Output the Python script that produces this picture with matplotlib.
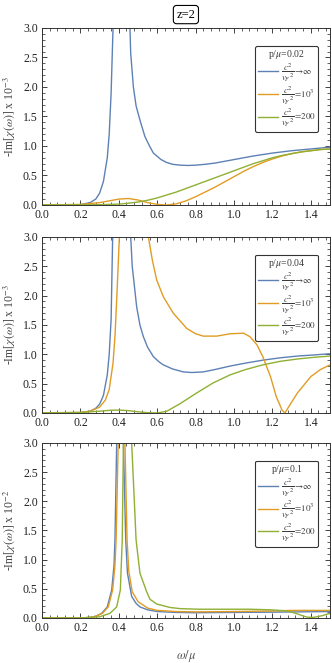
import matplotlib
matplotlib.use("Agg")
import matplotlib.pyplot as plt
from matplotlib.ticker import MultipleLocator, FuncFormatter

plt.rcParams["font.family"] = ["Liberation Serif", "DejaVu Serif"]
plt.rcParams["mathtext.fontset"] = "stix"

BLUE = "#5e81b5"
ORANGE = "#e19c24"
GREEN = "#8fb032"

# panel 1: p/mu = 0.02  (units 1e-3)
x1_inf = [0.0, 0.1, 0.2, 0.25, 0.28, 0.30, 0.32, 0.34, 0.35, 0.36, 0.37, 0.38, 0.40, 0.42, 0.44,
          0.458, 0.462, 0.476, 0.49, 0.51, 0.536, 0.56, 0.58, 0.62, 0.65, 0.68, 0.72, 0.76,
          0.80, 0.85, 0.90, 1.0, 1.1, 1.2, 1.3, 1.4, 1.5]
y1_inf = [0.0, 0.0, 0.005, 0.04, 0.1, 0.2, 0.4, 0.8, 1.2, 1.9, 3.0, 4.5, 10.0, 10.0, 4.5,
          3.0, 2.57, 2.0, 1.68, 1.44, 1.16, 1.0, 0.88, 0.77, 0.72, 0.69, 0.675, 0.67,
          0.675, 0.69, 0.71, 0.77, 0.83, 0.88, 0.92, 0.95, 0.98]
x1_1e3 = [0.0, 0.2, 0.3, 0.35, 0.4, 0.45, 0.5, 0.55, 0.6, 0.65, 0.7, 0.75, 0.8, 0.85, 0.9,
          0.95, 1.0, 1.05, 1.1, 1.15, 1.2, 1.25, 1.3, 1.35, 1.4, 1.45, 1.5]
y1_1e3 = [0.0, 0.01, 0.04, 0.07, 0.1, 0.11, 0.085, 0.04, 0.01, 0.0, 0.02, 0.07, 0.14, 0.22, 0.3,
          0.39, 0.48, 0.57, 0.65, 0.72, 0.78, 0.83, 0.87, 0.9, 0.92, 0.94, 0.95]
x1_200 = [0.0, 0.3, 0.4, 0.45, 0.5, 0.55, 0.6, 0.65, 0.7, 0.75, 0.8, 0.85, 0.9, 0.95, 1.0,
          1.05, 1.1, 1.15, 1.2, 1.25, 1.3, 1.35, 1.4, 1.45, 1.5]
y1_200 = [0.0, 0.005, 0.015, 0.03, 0.05, 0.08, 0.12, 0.17, 0.22, 0.28, 0.34, 0.40, 0.46, 0.52, 0.58,
          0.64, 0.70, 0.75, 0.80, 0.84, 0.87, 0.90, 0.92, 0.94, 0.95]

# panel 2: p/mu = 0.04  (units 1e-3)
x2_inf = [0.0, 0.1, 0.2, 0.25, 0.28, 0.30, 0.32, 0.34, 0.35, 0.36, 0.368, 0.38, 0.40, 0.43, 0.45,
          0.462, 0.47, 0.493, 0.51, 0.528, 0.55, 0.58, 0.61, 0.632, 0.68, 0.736, 0.78, 0.84,
          0.9, 0.98, 1.06, 1.15, 1.24, 1.33, 1.42, 1.5]
y2_inf = [0.0, 0.0, 0.005, 0.03, 0.08, 0.15, 0.3, 0.65, 1.0, 1.6, 3.0, 5.0, 10.0, 10.0, 5.0,
          3.0, 2.5, 1.81, 1.5, 1.3, 1.12, 0.96, 0.87, 0.82, 0.75, 0.70, 0.69, 0.70,
          0.74, 0.80, 0.85, 0.90, 0.94, 0.97, 0.99, 1.01]
x2_1e3 = [0.0, 0.2, 0.25, 0.3, 0.33, 0.35, 0.37, 0.38, 0.39, 0.403, 0.42, 0.46, 0.50, 0.53,
          0.554, 0.575, 0.597, 0.632, 0.684, 0.754, 0.80, 0.84, 0.91, 0.98, 1.05, 1.083,
          1.12, 1.15, 1.19, 1.22, 1.25, 1.265, 1.28, 1.33, 1.40, 1.45, 1.5]
y2_1e3 = [0.0, 0.01, 0.03, 0.1, 0.22, 0.4, 0.85, 1.3, 2.0, 3.0, 6.0, 12.0, 8.0, 4.2,
          3.0, 2.6, 2.27, 1.98, 1.7, 1.44, 1.35, 1.31, 1.31, 1.35, 1.36, 1.3,
          1.16, 0.96, 0.62, 0.28, 0.05, 0.0, 0.08, 0.34, 0.62, 0.74, 0.82]
x2_200 = [0.0, 0.2, 0.3, 0.35, 0.4, 0.45, 0.5, 0.55, 0.6, 0.65, 0.72, 0.805, 0.89, 0.98, 1.06,
          1.15, 1.24, 1.33, 1.42, 1.5]
y2_200 = [0.0, 0.01, 0.03, 0.045, 0.05, 0.04, 0.02, 0.005, 0.0, 0.03, 0.16, 0.34, 0.51, 0.65, 0.74,
          0.82, 0.88, 0.92, 0.95, 0.97]

# panel 3: p/mu = 0.1  (units 1e-2)
x3_inf = [0.0, 0.2, 0.25, 0.28, 0.311, 0.34, 0.363, 0.375, 0.38, 0.389, 0.40, 0.41, 0.42, 0.424,
          0.436, 0.445, 0.467, 0.49, 0.51, 0.55, 0.6, 0.7, 0.8, 1.0, 1.2, 1.5]
y3_inf = [0.0, 0.0, 0.01, 0.03, 0.08, 0.19, 0.48, 0.9, 1.34, 3.0, 6.0, 10.0, 5.0, 3.0,
          1.34, 0.77, 0.37, 0.25, 0.19, 0.14, 0.11, 0.095, 0.09, 0.095, 0.10, 0.11]
x3_1e3 = [0.0, 0.2, 0.25, 0.28, 0.315, 0.345, 0.368, 0.38, 0.386, 0.397, 0.405, 0.415, 0.425,
          0.432, 0.443, 0.452, 0.47, 0.5, 0.55, 0.6, 0.7, 0.8, 1.0, 1.2, 1.3, 1.5]
y3_1e3 = [0.0, 0.0, 0.01, 0.03, 0.08, 0.19, 0.48, 0.9, 1.34, 3.0, 6.0, 10.0, 5.0,
          3.0, 1.34, 0.8, 0.45, 0.28, 0.17, 0.13, 0.11, 0.105, 0.11, 0.12, 0.13, 0.13]
x3_200 = [0.0, 0.2, 0.3, 0.354, 0.389, 0.408, 0.418, 0.424, 0.435, 0.445, 0.455, 0.467, 0.49,
          0.51, 0.545, 0.5625, 0.597, 0.667, 0.72, 0.82, 1.08, 1.19, 1.26, 1.3, 1.33, 1.36,
          1.38, 1.41, 1.43, 1.46, 1.49, 1.5]
y3_200 = [0.0, 0.0, 0.02, 0.08, 0.19, 0.48, 1.34, 3.0, 7.0, 10.0, 6.0, 3.0, 1.34,
          0.77, 0.45, 0.32, 0.24, 0.18, 0.16, 0.15, 0.15, 0.14, 0.125, 0.1, 0.07, 0.035,
          0.015, 0.01, 0.02, 0.04, 0.07, 0.075]

panels = [
    ("0.02", "3", [(x1_inf, y1_inf), (x1_1e3, y1_1e3), (x1_200, y1_200)]),
    ("0.04", "3", [(x2_inf, y2_inf), (x2_1e3, y2_1e3), (x2_200, y2_200)]),
    ("0.1", "2", [(x3_inf, y3_inf), (x3_1e3, y3_1e3), (x3_200, y3_200)]),
]
labels = [r"$\dfrac{c^2}{{v_F}^2}\!\to\!\infty$",
          r"$\dfrac{c^2}{{v_F}^2}\!=\!10^3$",
          r"$\dfrac{c^2}{{v_F}^2}\!=\!200$"]
colors = [BLUE, ORANGE, GREEN]

fig = plt.figure(figsize=(3.32, 6.63), dpi=100)
rects = [(0.1265, 0.6908, 0.8675, 0.267),
         (0.1265, 0.3771, 0.8675, 0.2655),
         (0.1265, 0.0679, 0.8675, 0.264)]
fmt = FuncFormatter(lambda v, _: f"{v:.1f}")

for rect, (p, expo, series) in zip(rects, panels):
    ax = fig.add_axes(rect)
    for (xs, ys), lab, c in zip(series, labels, colors):
        ax.plot(xs, ys, color=c, lw=1.0, label=lab)
    ax.set_xlim(0, 1.5)
    ax.set_ylim(0, 3.0)
    ax.xaxis.set_major_locator(MultipleLocator(0.2))
    ax.xaxis.set_minor_locator(MultipleLocator(0.04))
    ax.yaxis.set_major_locator(MultipleLocator(0.5))
    ax.yaxis.set_minor_locator(MultipleLocator(0.1))
    ax.tick_params(which="both", direction="in", top=True, right=True,
                   labelsize=8.5, pad=3, colors="#222222")
    ax.tick_params(which="major", length=3.5, width=0.6)
    ax.tick_params(which="minor", length=2, width=0.5)
    ax.xaxis.set_major_formatter(fmt)
    ax.yaxis.set_major_formatter(fmt)
    for s in ax.spines.values():
        s.set_linewidth(0.7)
        s.set_color("#333333")
    ax.set_ylabel(r"-Im[$\chi(\omega)$] x 10$^{-" + expo + "}$", fontsize=8.5,
                  color="#444444", labelpad=4)
    leg = ax.legend(loc="upper right", bbox_to_anchor=(0.975, 0.925), fontsize=6.5,
                    title=r"p/$\mu$=" + p, title_fontsize=7, frameon=True,
                    fancybox=True, handlelength=2.3, handletextpad=0.3,
                    labelspacing=0.0, borderpad=0.25)
    leg.get_frame().set_edgecolor("black")
    leg.get_frame().set_linewidth(0.8)
    leg._legend_box.sep = 0
    for t in leg.get_texts():
        t.set_color("#3a3a3a")
    leg.get_title().set_color("#3a3a3a")

ax.set_xlabel(r"$\omega/\mu$", fontsize=9, color="#555555", labelpad=10)

fig.text(0.56, 0.978, "z=2", ha="center", va="center", fontsize=9,
         bbox=dict(boxstyle="round,pad=0.25", fc="white", ec="black", lw=0.8))

fig.savefig("out.png", dpi=100)
